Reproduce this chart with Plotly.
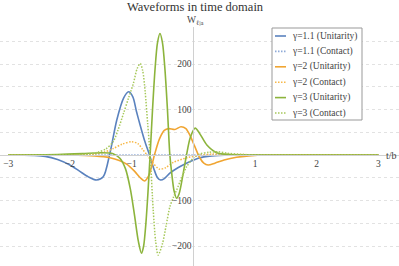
import plotly.graph_objects as go

W, H = 399, 266

# ---- data ----
names = ["γ=1.1 (Unitarity)", "γ=1.1 (Contact)", "γ=2 (Unitarity)",
         "γ=2 (Contact)", "γ=3 (Unitarity)", "γ=3 (Contact)"]
colors = ["#5a82be", "#8eaad8", "#f0a532", "#f7b848", "#8cb43c", "#a6c85a"]
dashes = ["solid", "1.5px,1.5px", "solid", "1.5px,1.5px", "solid", "1.5px,1.5px"]

t_u11 = [-3, -2.6, -2.4, -2.2, -2.0, -1.85, -1.7, -1.57, -1.46, -1.35, -1.24, -1.13, -1.05,
         -0.98, -0.92, -0.86, -0.79, -0.71, -0.64, -0.58, -0.53, -0.47, -0.38, -0.25, -0.11,
         0.08, 0.3, 0.6, 1.0, 3]
w_u11 = [0, -1, -3, -10, -22, -35, -48, -55, -48, 5, 77, 125, 139,
         128, 95, 65, 32, 0, -30, -50, -55, -52, -40, -28, -18,
         -7, -2, 0, 0, 0]

t_c11 = [-3, -2, -1, 0, 1, 2, 3]
w_c11 = [0, 0, 0, 0, 0, 0, 0]

t_u2 = [-3, -2, -1.6, -1.35, -1.2, -1.08, -0.95, -0.86, -0.79, -0.72, -0.63, -0.55, -0.47, -0.4,
        -0.3, -0.2, -0.12, -0.05, 0.02, 0.1, 0.17, 0.24, 0.35, 0.5, 0.7, 0.9, 1.2, 3]
w_u2 = [0, 0, -2, -6, -12, -20, -36, -50, -57, -45, 0, 35, 54, 58,
        56, 62, 58, 42, 20, -5, -18, -22, -18, -11, -5, -2, 0, 0]

t_c2 = [-3, -1.9, -1.6, -1.45, -1.3, -1.15, -1.0, -0.9, -0.82, -0.75, -0.65, -0.55, -0.45,
        -0.32, -0.1, 0.1, 0.3, 0.5, 0.8, 1.2, 3]
w_c2 = [0, 0, 2, 6, 14, 24, 29, 25, 12, 0, -18, -31, -28,
        -16, -6, -1, 2, 2, 1, 0, 0]

t_u3 = [-3, -2.2, -1.8, -1.5, -1.3, -1.19, -1.1, -1.02, -0.95, -0.89, -0.84, -0.805, -0.77,
        -0.735, -0.70, -0.66, -0.62, -0.58, -0.54, -0.50, -0.46, -0.42, -0.38, -0.35, -0.31,
        -0.27, -0.23, -0.17, -0.11, -0.05, 0.03, 0.1, 0.22, 0.38, 0.6, 1.0, 3]
w_u3 = [0, 1, 3, 5, 3, -7, -30, -75, -135, -190, -216, -200, -153,
        -83, 0, 102, 189, 247, 267, 247, 189, 102, 0, -40, -80,
        -95, -85, -45, 0, 38, 59, 48, 22, 5, 1, 0, 0]

t_c3 = [-3, -2, -1.7, -1.55, -1.42, -1.3, -1.22, -1.13, -1.05, -0.97, -0.91, -0.86, -0.82,
        -0.78, -0.74, -0.70, -0.65, -0.61, -0.57, -0.5, -0.44, -0.38, -0.32, -0.27, -0.19,
        -0.11, 0, 0.1, 0.25, 0.4, 0.55, 0.8, 1.1, 3]
w_c3 = [0, 0, 2, 6, 13, 29, 55, 92, 125, 158, 190, 201, 185,
        139, 70, 0, -120, -190, -220, -195, -155, -114, -92, -77, -50,
        -26, -7, 2, 6, 7, 4, 1, 0, 0]

series_t = [t_u11, t_c11, t_u2, t_c2, t_u3, t_c3]
series_w = [w_u11, w_c11, w_u2, w_c2, w_u3, w_c3]

x_ticks = [-3, -2, -1, 1, 2, 3]
x_ticktext = ["−3", "−2", "−1", "1", "2", "3"]
y_ticks = [-200, -100, 100, 200]
y_ticktext = ["−200", "−100", "100", "200"]
y_minor = [-250, -150, -50, 50, 150, 250]

FONT = "Liberation Serif"

fig = go.Figure()
for i in range(6):
    fig.add_trace(go.Scatter(
        x=series_t[i], y=series_w[i], mode="lines", name=names[i],
        line=dict(color=colors[i], width=1.6 if dashes[i] == "solid" else 1.5,
                  dash=dashes[i], shape="spline", smoothing=0.8),
        showlegend=False, hoverinfo="skip"))

def px(xp):
    return xp / W

def py(yp):
    return 1 - yp / H

y_top_px = 27
fig.update_layout(
    width=W, height=H,
    margin=dict(l=0, r=0, t=0, b=0, autoexpand=False),
    paper_bgcolor="white", plot_bgcolor="white",
    font=dict(family=FONT, size=9.5, color="#444"),
    showlegend=False,
    xaxis=dict(
        range=[(0 - 193.3) / 61.7, (399 - 193.3) / 61.7], domain=[0, 1],
        anchor="free", position=py(155), automargin=False,
        showline=True, linecolor="#d0d0d0", linewidth=1,
        tickvals=x_ticks, ticktext=x_ticktext, ticks="", showgrid=False,
        zeroline=False, tickfont=dict(family=FONT, size=9.5, color="#444"),
    ),
    yaxis=dict(
        range=[(155 - 266) / 0.455, (155 - y_top_px) / 0.455], domain=[0, py(y_top_px)],
        anchor="free", position=px(193.3), automargin=False,
        showline=True, linecolor="#d0d0d0", linewidth=1,
        tickvals=y_ticks, ticktext=y_ticktext, ticks="",
        showgrid=True, gridcolor="#e2e2e2", griddash="dot", gridwidth=1,
        minor=dict(tickvals=y_minor, showgrid=True, gridcolor="#e2e2e2",
                   griddash="dot", gridwidth=1),
        zeroline=False, tickfont=dict(family=FONT, size=9.5, color="#444"),
    ),
)

annots = [
    dict(x=px(195), y=py(7), text="Waveforms in time domain",
         font=dict(family=FONT, size=12.5, color="#333")),
    dict(x=px(195), y=py(20), text="W<sub>ℓ|a</sub>",
         font=dict(family=FONT, size=9.5, color="#444")),
    dict(x=px(391), y=py(155), text="t/b",
         font=dict(family=FONT, size=10, color="#444")),
]

shapes = [dict(type="rect", xref="paper", yref="paper",
               x0=px(272), x1=px(362), y0=py(120), y1=py(28),
               line=dict(color="#999999", width=1), fillcolor="white", layer="above")]
row_y = [36, 51.4, 66.8, 82.2, 97.6, 113]
for i in range(6):
    shapes.append(dict(type="line", xref="paper", yref="paper",
                       x0=px(275), x1=px(286), y0=py(row_y[i]), y1=py(row_y[i]),
                       line=dict(color=colors[i], width=1.6, dash=dashes[i]),
                       layer="above"))
    annots.append(dict(x=px(289.5), y=py(row_y[i]), text=names[i], xanchor="left",
                       font=dict(family=FONT, size=9.5, color="#444")))

for a in annots:
    a.setdefault("xref", "paper")
    a.setdefault("yref", "paper")
    a.setdefault("showarrow", False)
    a.setdefault("xanchor", "center")
    a.setdefault("yanchor", "middle")

fig.update_layout(annotations=annots, shapes=shapes)
fig.write_html("out.html", config={"displayModeBar": False},
               post_script="document.body.style.margin='0px';document.body.style.overflow='hidden';")
